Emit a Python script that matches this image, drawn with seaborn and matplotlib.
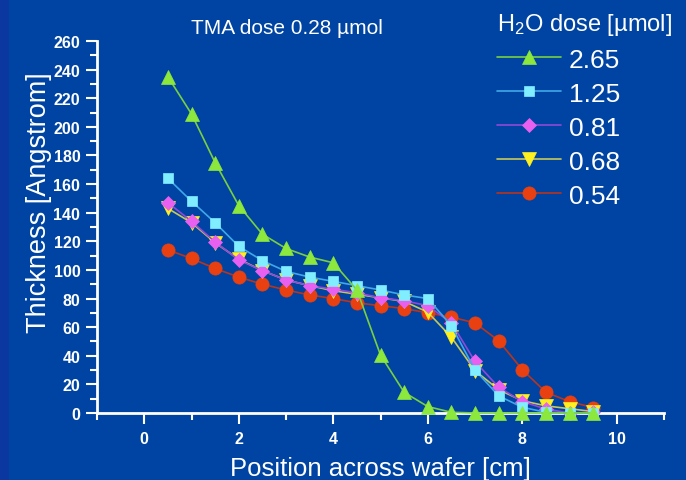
import numpy as np
import pandas as pd
import matplotlib
matplotlib.use("Agg")
import matplotlib.pyplot as plt
from matplotlib.patches import Rectangle
from matplotlib.ticker import MultipleLocator
import seaborn as sns

# ---------------- data ----------------
position = [0.5, 1.0, 1.5, 2.0, 2.5, 3.0, 3.5, 4.0, 4.5, 5.0,
            5.5, 6.0, 6.5, 7.0, 7.5, 8.0, 8.5, 9.0, 9.5]
dose_labels = ["2.65", "1.25", "0.81", "0.68", "0.54"]
thk_265 = [235, 209, 175, 145, 125, 115, 109, 105, 86, 40.5,
           14.5, 4.5, 0.5, 0, 0, 0, 0, 0, 0]
thk_125 = [164, 148, 133, 116.5, 106.5, 99, 95, 92, 89, 86,
           82.5, 80, 61, 30, 12, 4, 0.5, 0, 0]
thk_081 = [147, 134, 119.5, 107, 99.5, 93, 89, 86.5, 84, 80.5,
           78.5, 75, 63, 36, 18, 8, 2.8, 0, 0.5]
thk_068 = [143, 133, 119, 107.5, 99.5, 93, 89, 85.5, 83, 80.5,
           78, 70.5, 53, 29.6, 16.3, 8.6, 5, 3, 1]
thk_054 = [114, 108, 101, 95, 90, 86, 82.5, 80, 77, 75,
           73, 70, 67, 63, 50.5, 30.3, 14.5, 8, 3.8]
series = [thk_265, thk_125, thk_081, thk_068, thk_054]

title_text = "TMA dose 0.28 µmol"
legend_title = "H$_2$O dose [µmol]"
xlabel = "Position across wafer [cm]"
ylabel = "Thickness [Angstrom]"

# ---------------- style ----------------
bg = "#0044A3"
markers = ["^", "s", "D", "v", "o"]
line_colors = ["#78D040", "#40A8E8", "#9048D8", "#C8C858", "#B8341C"]
face_colors = ["#8CE83C", "#80EEFF", "#E860F0", "#FFF020", "#E84010"]
msizes = [9.5, 7, 7, 9.5, 9.5]

sns.set_theme(style="ticks")
fam = ["Liberation Sans", "DejaVu Sans"]
plt.rcParams["font.family"] = fam
plt.rcParams["mathtext.fontset"] = "custom"
plt.rcParams["mathtext.rm"] = "Liberation Sans"
plt.rcParams["mathtext.it"] = "Liberation Sans:italic"
plt.rcParams["mathtext.bf"] = "Liberation Sans:bold"

fig = plt.figure(figsize=(6.86, 4.81), dpi=100, facecolor=bg)
fig.patches.append(Rectangle((0, 0), 9 / 686, 1, transform=fig.transFigure,
                             facecolor="#0A38A0", edgecolor="none", zorder=-1))
ax = fig.add_axes([97 / 686, 1 - 414 / 481, (664 - 97) / 686, (414 - 42) / 481])
ax.set_facecolor(bg)

df_rows = []
for lab, vals in zip(dose_labels, series):
    for x, y in zip(position, vals):
        df_rows.append({"position": x, "thickness": y, "dose": lab})
df = pd.DataFrame(df_rows)

for i, lab in enumerate(dose_labels):
    sub = df[df["dose"] == lab]
    sns.lineplot(data=sub, x="position", y="thickness", ax=ax,
                 color=line_colors[i], linewidth=1.2,
                 marker=markers[i], markersize=msizes[i],
                 markerfacecolor=face_colors[i], markeredgecolor=face_colors[i],
                 markeredgewidth=0.5, label=lab, clip_on=False,
                 zorder=3 + (4 - i) * 0.1, estimator=None, sort=False)

ax.set_xlim(-1, 11)
ax.set_ylim(0, 260)
ax.xaxis.set_major_locator(MultipleLocator(2))
ax.xaxis.set_minor_locator(MultipleLocator(1))
ax.yaxis.set_major_locator(MultipleLocator(20))
ax.yaxis.set_minor_locator(MultipleLocator(10))

for s in ["top", "right"]:
    ax.spines[s].set_visible(False)
for s in ["left", "bottom"]:
    ax.spines[s].set_color("white")
    ax.spines[s].set_linewidth(2)

ax.tick_params(which="major", length=8, width=1.5, color="white",
               labelcolor="white", labelsize=11.5, pad=4)
ax.tick_params(which="minor", length=5, width=1.5, color="white")
for lbl in ax.get_xticklabels() + ax.get_yticklabels():
    lbl.set_fontweight("bold")
ax.tick_params(axis="x", which="major", pad=5)

ax.set_xlabel(xlabel, color="white", fontsize=18.5, labelpad=7)
ax.set_ylabel(ylabel, color="white", fontsize=19.5)
ax.yaxis.set_label_coords((52 - 97) / 567, (414 - 202.5) / 372)

fig.text(287 / 686, 1 - 29 / 481, title_text, color="white", fontsize=15,
         ha="center", va="center")

leg = ax.legend(loc="upper left", bbox_to_anchor=(479 / 686, 1 + 6 / 481),
                bbox_transform=fig.transFigure, frameon=False,
                fontsize=19, title=legend_title, title_fontsize=17,
                handlelength=2.4, handletextpad=0.3, labelspacing=0.38,
                borderpad=0.2, markerscale=1.0)
leg.get_title().set_color("white")
leg._legend_box.align = "left"
for t in leg.get_texts():
    t.set_color("white")

fig.savefig("out.png", dpi=100, facecolor=bg)
